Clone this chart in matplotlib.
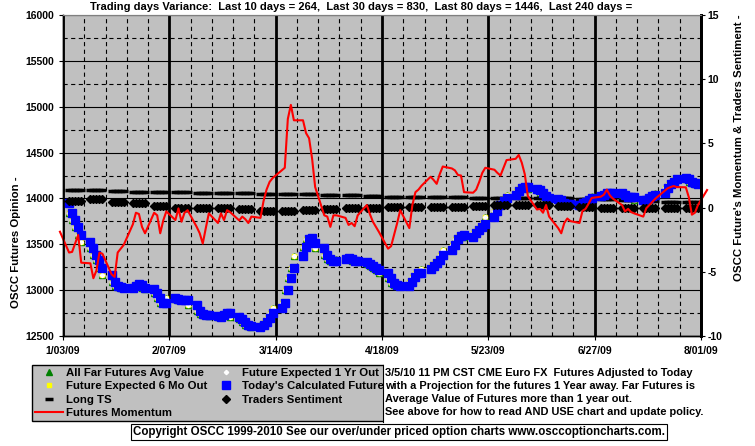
import numpy as np
import pandas as pd
import matplotlib
matplotlib.use('Agg')
import matplotlib.pyplot as plt
from matplotlib.ticker import MultipleLocator, FuncFormatter
from matplotlib.lines import Line2D
from matplotlib.patches import Rectangle

plt.rcParams['font.family'] = ['Liberation Sans', 'DejaVu Sans']
plt.rcParams['font.weight'] = 'bold'
plt.rcParams['axes.unicode_minus'] = False
plt.rcParams['lines.scale_dashes'] = False

# trading days 1/02/09 .. 7/31/09 (momentum line runs to 8/03/09)
days = pd.bdate_range('2009-01-02', '2009-07-31')
mom_days = pd.bdate_range('2009-01-02', '2009-08-03')

# Today's Calculated Future (left axis), one row per week Mon..Fri
today_calc = [np.nan,
    13950, 13840, 13765, 13692, 13600,
    13528, 13456, 13383, 13329, 13245,
    13165, 13090, 13050, 13030, 13020,
    13025, 13045, 13065, 13060, 13025,
    13010, 12965, 12910, 12865, 12860,
    12910, 12905, 12895, 12890, 12895,
    12840, 12770, 12740, 12730, 12725,
    12715, 12712, 12725, 12750, 12752,
    12710, 12682, 12655, 12622, 12608,
    12600, 12620, 12656, 12693, 12747,
    12802, 12863, 12998, 13129, 13245,
    13372, 13467, 13555, 13565, 13511,
    13456, 13383, 13340, 13318, 13318,
    13336, 13347, 13340, 13321, 13318,
    13310, 13290, 13263, 13240, 13220,
    13184, 13129, 13081, 13056, 13050,
    13045, 13092, 13147, 13184, 13190,
    13227, 13260, 13300, 13330, 13383,
    13438, 13492, 13555, 13590, 13600,
    13583, 13620, 13656, 13692, 13721,
    13801, 13863, 13928, 13975, 14000,
    14038, 14085, 14110, 14121, 14125,
    14100, 14092, 14056, 14027, 14008,
    13990, 13985, 13947, 13940, 13935,
    13928, 13954, 13965, 13983, 14001,
    14027, 14038, 14056, 14060, 14060,
    14056, 14038, 14019, 14012, 14012,
    13983, 13983, 14001, 14027, 14038,
    14063, 14110, 14157, 14183, 14209,
    14220, 14209, 14183, 14165, 14157]

# projections track today's value about one trading day ahead
projection = [np.nan] + today_calc[2:] + today_calc[-1:]

# Long TS (left axis), one value per week (first = 1/02)
long_ts_weekly = [14088, 14088, 14088, 14085, 14072, 14070, 14066, 14063,
                  14060, 14055, 14052, 14048, 14045, 14040, 14035, 14030,
                  14020, 14015, 14012, 14012, 14010, 14008, 14003, 14000,
                  14000, 13995, 13990, 13983, 13975, 13965, 13958]

# Traders Sentiment (right axis), one value per week (first = 1/02)
sentiment_weekly = [0.55, 0.54, 0.65, 0.44, 0.33, 0.12, -0.01, -0.01,
                    -0.06, -0.11, -0.24, -0.30, -0.19, -0.13, -0.07, -0.02,
                    0.02, 0.07, 0.07, 0.07, 0.15, 0.20, 0.20, 0.20,
                    0.15, 0.07, -0.01, -0.01, -0.01, -0.01, -0.01]

# Futures Momentum (right axis), daily
momentum = [-1.88,
    -3.5, -3.45, -2.8, -2.13, -4.29,
    -4.34, -5.5, -4.9, -3.5, -3.6,
    -5.2, -5.4, -3.5, -3.2, -2.9,
    -1.3, -0.4, -0.5, -1.5, -2.0,
    -0.4, -0.6, -2.0, -1.0, -0.3,
    -0.97, -0.06, -1.1, -0.4, -0.2,
    -1.5, -2.0, -2.8, -1.6, -0.45,
    -1.2, -0.45, -0.97, -0.2, -0.35,
    -1.0, -0.7, -0.9, -1.2, -0.7,
    -0.8, 0.5, 1.4, 2.0, 2.3,
    2.9, 3.1, 6.9, 8.0, 6.8,
    6.8, 5.8, 5.4, 3.8, 1.6,
    -0.6, -0.7, -1.5, -0.6, -0.6,
    -0.8, -1.35, -1.2, -1.45, -0.6,
    0.2, -0.5, -1.1, -1.5, -1.9,
    -3.2, -3.0, -2.1, -1.2, -0.2,
    -1.6, 0.2, 1.2, 1.4, 1.7,
    2.4, 2.15, 1.85, 2.6, 3.2,
    3.05, 2.9, 2.54, 2.5, 1.2,
    1.16, 1.4, 2.0, 2.7, 3.1,
    2.95, 2.7, 2.5, 3.1, 3.7,
    3.8, 4.1, 3.5, 2.6, 0.9,
    -0.15, -0.1, -0.4, 0.2, -0.7,
    -1.6, -2.0, -1.2, -0.85, -1.05,
    -1.2, -0.25, -0.1, 0.3, 0.75,
    0.85, 1.0, 1.4, 0.95, 0.7,
    0.2, -0.3, -0.1, -0.35, -0.45,
    -0.7, -0.05, 0.2, 0.45, 0.7,
    1.3, 1.5, 1.6, 1.68, 1.6,
    1.58, 0.8, -0.55, -0.4, 0.2,
    1.37]

long_ts = [long_ts_weekly[0]] + list(np.repeat(long_ts_weekly[1:], 5))
sentiment = [sentiment_weekly[0]] + list(np.repeat(sentiment_weekly[1:], 5))

title = ("Trading days Variance:  Last 10 days = 264,  Last 30 days = 830,  "
         "Last 80 days = 1446,  Last 240 days =")
note_lines = ["3/5/10 11 PM CST CME Euro FX  Futures Adjusted to Today",
              "with a Projection for the futures 1 Year away. Far Futures is",
              "Average Value of Futures more than 1 year out.",
              "See above for how to read AND USE chart and update policy."]
copyright = ("Copyright OSCC 1999-2010 See our over/under priced option charts "
             "www.osccoptioncharts.com.")

W, H = 755, 446
fs = 8.2      # titles, legend
tfs = 7.5     # tick labels
fig = plt.figure(figsize=(W / 100, H / 100), dpi=100)
ax = fig.add_axes([63 / W, 1 - 336 / H, (701 - 63) / W, (336 - 15) / H])
ax.set_facecolor('#C0C0C0')
ax2 = ax.twinx()

ax.set_xlim(pd.Timestamp('2009-01-03'), pd.Timestamp('2009-08-01'))
ax.set_ylim(12500, 16000)
ax2.set_ylim(-10, 15)

ax.set_xticks(pd.date_range('2009-01-03', '2009-08-01', freq='35D'))
ax.set_xticks(pd.date_range('2009-01-03', '2009-08-01', freq='7D'), minor=True)
ax.xaxis.set_major_formatter(FuncFormatter(
    lambda v, p: (lambda d: f"{d.month}/{d:%d/%y}")(matplotlib.dates.num2date(v))))
ax.yaxis.set_major_locator(MultipleLocator(500))
ax.yaxis.set_minor_locator(MultipleLocator(250))
ax2.yaxis.set_major_locator(MultipleLocator(5))

ax.grid(True, which='major', axis='x', color='black', lw=2.0)
ax.grid(True, which='minor', axis='x', color='black', lw=0.8, ls=(0, (3, 2.5)))
ax.grid(True, which='major', axis='y', color='black', lw=0.8)
ax.grid(True, which='minor', axis='y', color='black', lw=0.8, ls=(0, (3, 2.5)))

ax.tick_params(which='minor', length=0)
ax.tick_params(axis='x', which='major', length=3, pad=4, labelsize=tfs, color='black')
ax.tick_params(axis='y', which='major', length=3, pad=3.5, labelsize=tfs)
ax2.tick_params(axis='y', length=3, pad=1.5, labelsize=tfs)

for a in (ax, ax2):
    a.spines['top'].set_color('#808080')
    a.spines['left'].set_linewidth(1.0)
    a.spines['bottom'].set_linewidth(1.0)
    a.spines['right'].set_linewidth(2.0)

h_far, = ax.plot(days, projection, ls='none', marker='^', ms=3.8, color='#008000',
                 label='All Far Futures Avg Value')
h_6mo, = ax.plot(days, projection, ls='none', marker='s', ms=3.0, color='#FFFF00',
                 label='Future Expected 6 Mo Out')
h_1yr, = ax.plot(days, projection, ls='none', marker='D', ms=2.2, color='white',
                 label='Future Expected 1 Yr Out')
h_lts, = ax.plot(days, long_ts, ls='none', marker='_', ms=6, mew=2.5, color='black',
                 label='Long TS')
h_today, = ax.plot(days, today_calc, ls='none', marker='s', ms=5.3, color='#0000FF',
                   label="Today's Calculated Future")
h_sent, = ax2.plot(days, sentiment, ls='none', marker='D', ms=4, color='black',
                   label='Traders Sentiment')
h_mom, = ax2.plot(mom_days, momentum, color='red', lw=1.5, clip_on=False,
                  label='Futures Momentum')

fig.text(90 / W, 1 - 7 / H, title, ha='left', va='center', fontsize=8.0)
fig.text(16 / W, 1 - 242 / H, 'OSCC Futures Opinion -', rotation=90,
         ha='center', va='center', fontsize=fs)
fig.text(739 / W, 1 - 148 / H, "OSCC Future's Momentum & Traders Sentiment -",
         rotation=90, ha='center', va='center', fontsize=fs)

handles = [h_far, h_6mo, h_lts, h_mom, h_1yr, h_today, h_sent]
leg = fig.legend(handles, [h.get_label() for h in handles],
                 ncol=2, loc='upper left', bbox_to_anchor=(32 / W, 1 - 365 / H),
                 borderaxespad=0, fontsize=fs, handlelength=2.5, handletextpad=0.2,
                 columnspacing=0.4, labelspacing=0.3, borderpad=0.25,
                 fancybox=False, framealpha=1, facecolor='#C0C0C0', edgecolor='black')
leg.get_frame().set_linewidth(1.0)

fig.patches.append(Rectangle((384 / W, 1 - 422.5 / H), (W - 384) / W, 60 / H,
                             transform=fig.transFigure, facecolor='white',
                             edgecolor='none', zorder=6))
fig.lines.append(Line2D([383 / W, 383 / W], [1 - 365 / H, 1 - 422 / H],
                        transform=fig.transFigure, color='black', lw=0.8, zorder=7))
for i, line in enumerate(note_lines):
    fig.text(385 / W, 1 - (373 + 13 * i) / H, line, ha='left', va='center',
             fontsize=7.9, zorder=8)

fig.text(399 / W, 1 - 432 / H, copyright, ha='center', va='center', fontsize=8.3,
         bbox=dict(facecolor='white', edgecolor='black', linewidth=0.8,
                   boxstyle='square,pad=0.2'))

fig.savefig('out.png', dpi=100)
